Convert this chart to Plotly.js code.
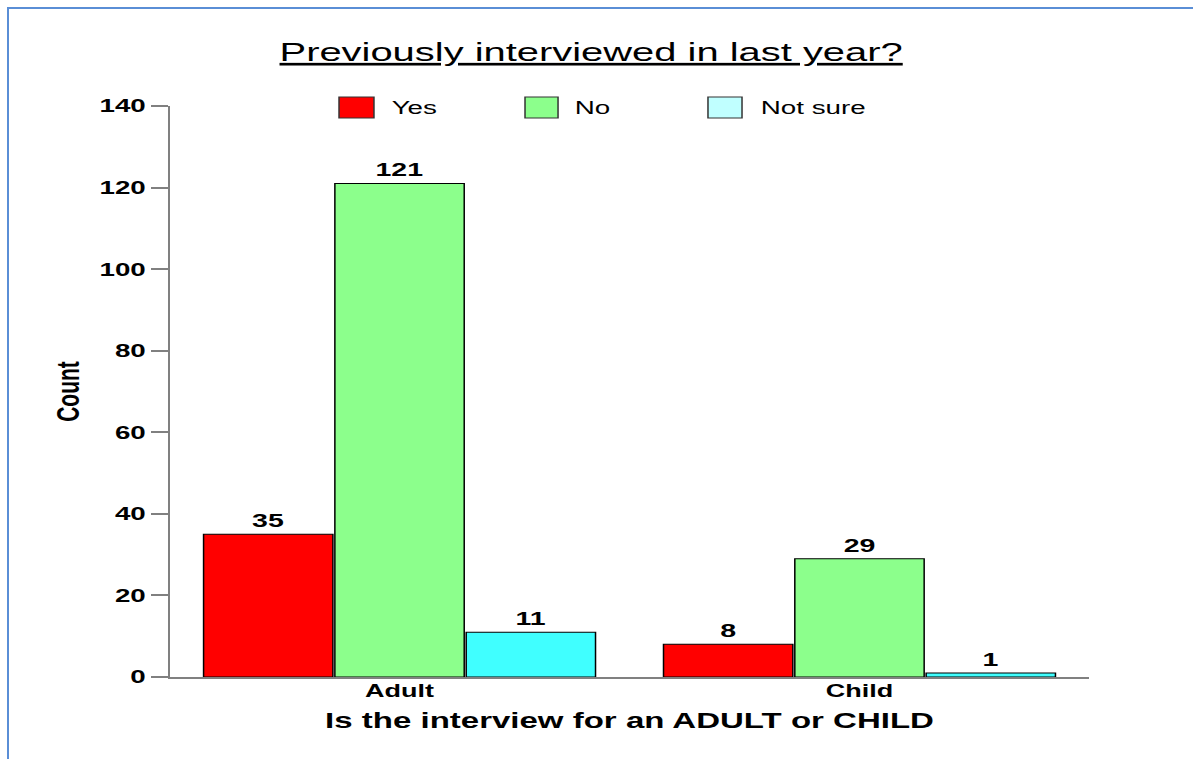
<!DOCTYPE html>
<html>
<head>
<meta charset="utf-8">
<script src="https://cdn.plot.ly/plotly-3.0.1.min.js"></script>
<style>
  html, body { margin: 0; padding: 0; overflow: hidden; background: #ffffff; width: 1193px; height: 759px; }
  #chart { position: absolute; left: 0; top: 0; width: 795px; height: 759px; transform: scaleX(1.50063); transform-origin: 0 0; }
  #frame { position: absolute; left: 7px; top: 7px; width: 1300px; height: 900px; border-top: 2px solid #5a8ed6; border-left: 2px solid #5a8ed6; pointer-events: none; z-index: 10; }
</style>
</head>
<body>
<div id="chart"></div>
<div id="frame"></div>
<script>
// ---- data ----
const categories = ["Adult", "Child"];
const seriesNames = ["Yes", "No", "Not sure"];
const yesValues = [35, 8];
const noValues = [121, 29];
const notSureValues = [11, 1];
const barColors = ["#ff0000", "#8cff8c", "#40ffff"];
const legendSwatchColors = ["#ff0000", "#8cff8c", "#c0ffff"];
const yTickValues = [0, 20, 40, 60, 80, 100, 120, 140];

const chartTitle = "Previously interviewed in last year?";
const xTitle = "Is the interview for an ADULT or CHILD";
const yTitle = "Count";

const FONT = "Liberation Sans, Arial, sans-serif";
const seriesValues = [yesValues, noValues, notSureValues];

const traces = seriesNames.map((name, i) => ({
  type: "bar",
  name: name,
  x: categories,
  y: seriesValues[i],
  text: seriesValues[i].map(String),
  textposition: "outside",
  cliponaxis: false,
  outsidetextfont: { family: FONT, size: 19, color: "#000000", weight: "bold" },
  marker: { color: barColors[i], line: { color: "#000000", width: 1 } },
  hoverinfo: "x+y+name"
}));

// custom legend (paper coordinates), built from series names
const swatchX = [[0.1842, 0.2222], [0.3864, 0.4223], [0.5853, 0.6223]];
const labelX = [0.2375, 0.4375, 0.6400];
const shapes = seriesNames.map((n, i) => ({
  type: "rect", xref: "paper", yref: "paper",
  x0: swatchX[i][0], x1: swatchX[i][1], y0: 0.979, y1: 1.0158,
  fillcolor: legendSwatchColors[i], line: { color: "#333333", width: 1 }
}));
const annotations = seriesNames.map((n, i) => ({
  xref: "paper", yref: "paper", x: labelX[i], y: 0.9975,
  xanchor: "left", yanchor: "middle", showarrow: false,
  text: n, font: { family: FONT, size: 18.5, color: "#000000" }
}));

const layout = {
  width: 795, height: 759,
  margin: { l: 113, r: 69, t: 106, b: 82, pad: 0 },
  paper_bgcolor: "#ffffff", plot_bgcolor: "#ffffff",
  showlegend: false,
  barmode: "group",
  bargap: 0.1435,
  bargroupgap: 0.015,
  title: {
    text: chartTitle,
    x: 0.4955, xref: "container", xanchor: "center",
    y: 0.9315, yref: "container", yanchor: "middle",
    font: { family: FONT, size: 26.6, color: "#000000", lineposition: "under" }
  },
  xaxis: {
    type: "category",
    range: [-0.5, 1.5],
    showgrid: false, zeroline: false,
    showline: true, linecolor: "#808080", linewidth: 1.5,
    ticks: "",
    tickfont: { family: FONT, size: 18, color: "#000000", weight: "bold" },
    ticklabelstandoff: -3,
    automargin: false,
    title: { text: xTitle, standoff: 12, font: { family: FONT, size: 22, color: "#000000", weight: "bold" } }
  },
  yaxis: {
    range: [0, 140],
    tickvals: yTickValues,
    showgrid: false, zeroline: false,
    showline: true, linecolor: "#808080", linewidth: 1.3,
    ticks: "outside", ticklen: 11, tickwidth: 1.5, tickcolor: "#808080",
    tickfont: { family: FONT, size: 18.5, color: "#000000", weight: "bold" },
    automargin: false,
    title: { text: yTitle, standoff: 7, font: { family: FONT, size: 21, color: "#000000", weight: "bold" } }
  },
  shapes: shapes,
  annotations: annotations
};

Plotly.newPlot("chart", traces, layout, { displayModeBar: false, staticPlot: false });
</script>
</body>
</html>
